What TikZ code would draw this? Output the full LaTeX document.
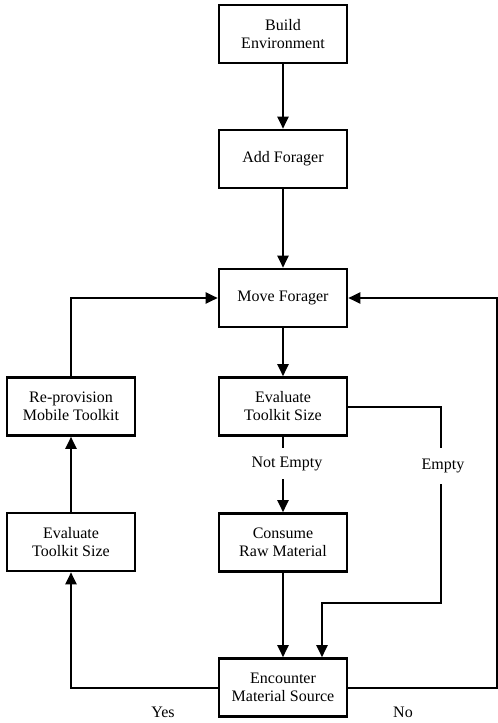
\documentclass[tikz,border=0pt]{standalone}
\usepackage{fontspec}
\setmainfont{Liberation Serif}
\usetikzlibrary{arrows.meta}
\begin{document}
\begin{tikzpicture}[x=1pt,y=-1pt,
  box/.style={draw, line width=2.6pt, minimum width=128pt, minimum height=58pt, inner sep=0pt, align=center, font=\rmfamily\fontsize{16}{18}\selectfont},
  lbl/.style={inner sep=0pt, font=\rmfamily\fontsize{16}{18}\selectfont},
  conn/.style={line width=2pt},
  arr/.style={conn, -{Triangle[length=12pt,width=11pt]}}]
\useasboundingbox (0,0) rectangle (498,723);
\node[box] (build) at (283,34) {Build\\Environment};
\node[box] (add) at (283,159) {Add Forager};
\node[box] (move) at (283,298) {Move Forager};
\node[box] (eval) at (283,406.5) {Evaluate\\Toolkit Size};
\node[box] (consume) at (283,542.5) {Consume\\Raw Material};
\node[box] (enc) at (283,687.5) {Encounter\\Material Source};
\node[box] (reprov) at (71,406.5) {Re-provision\\Mobile Toolkit};
\node[box] (leval) at (71,542) {Evaluate\\Toolkit Size};
\node[lbl, minimum height=31pt] (ne) at (287,463.5) {Not Empty};
\node[lbl, minimum height=36pt] (empty) at (443,466) {Empty};
\node[lbl] (yes) at (163,712) {Yes};
\node[lbl] (no) at (403,712) {No};
\coordinate (c1) at (441,406.5);
\coordinate (c2) at (441,603);
\coordinate (c3) at (322,603);
\coordinate (n1) at (497,687.5);
\coordinate (n2) at (497,298);
\coordinate (y1) at (71,687.5);
\coordinate (r1) at (71,298);
\draw[arr] (build) -- (add);
\draw[arr] (add) -- (move);
\draw[arr] (move) -- (eval);
\draw[conn] (eval.south) -- (eval.south |- ne.north);
\draw[arr] (eval.south |- ne.south) -- (consume.north);
\draw[conn] (eval.east) -- (c1) -- (c1 |- empty.north);
\draw[arr] (c1 |- empty.south) -- (c2) -- (c3) -- (c3 |- enc.north);
\draw[arr] (consume) -- (enc);
\draw[arr] (enc.west) -- (y1) -- (leval.south);
\draw[arr] (leval) -- (reprov);
\draw[arr] (reprov.north) -- (r1) -- (move.west);
\draw[arr] (enc.east) -- (n1) -- (n2) -- (move.east);
\end{tikzpicture}
\end{document}
